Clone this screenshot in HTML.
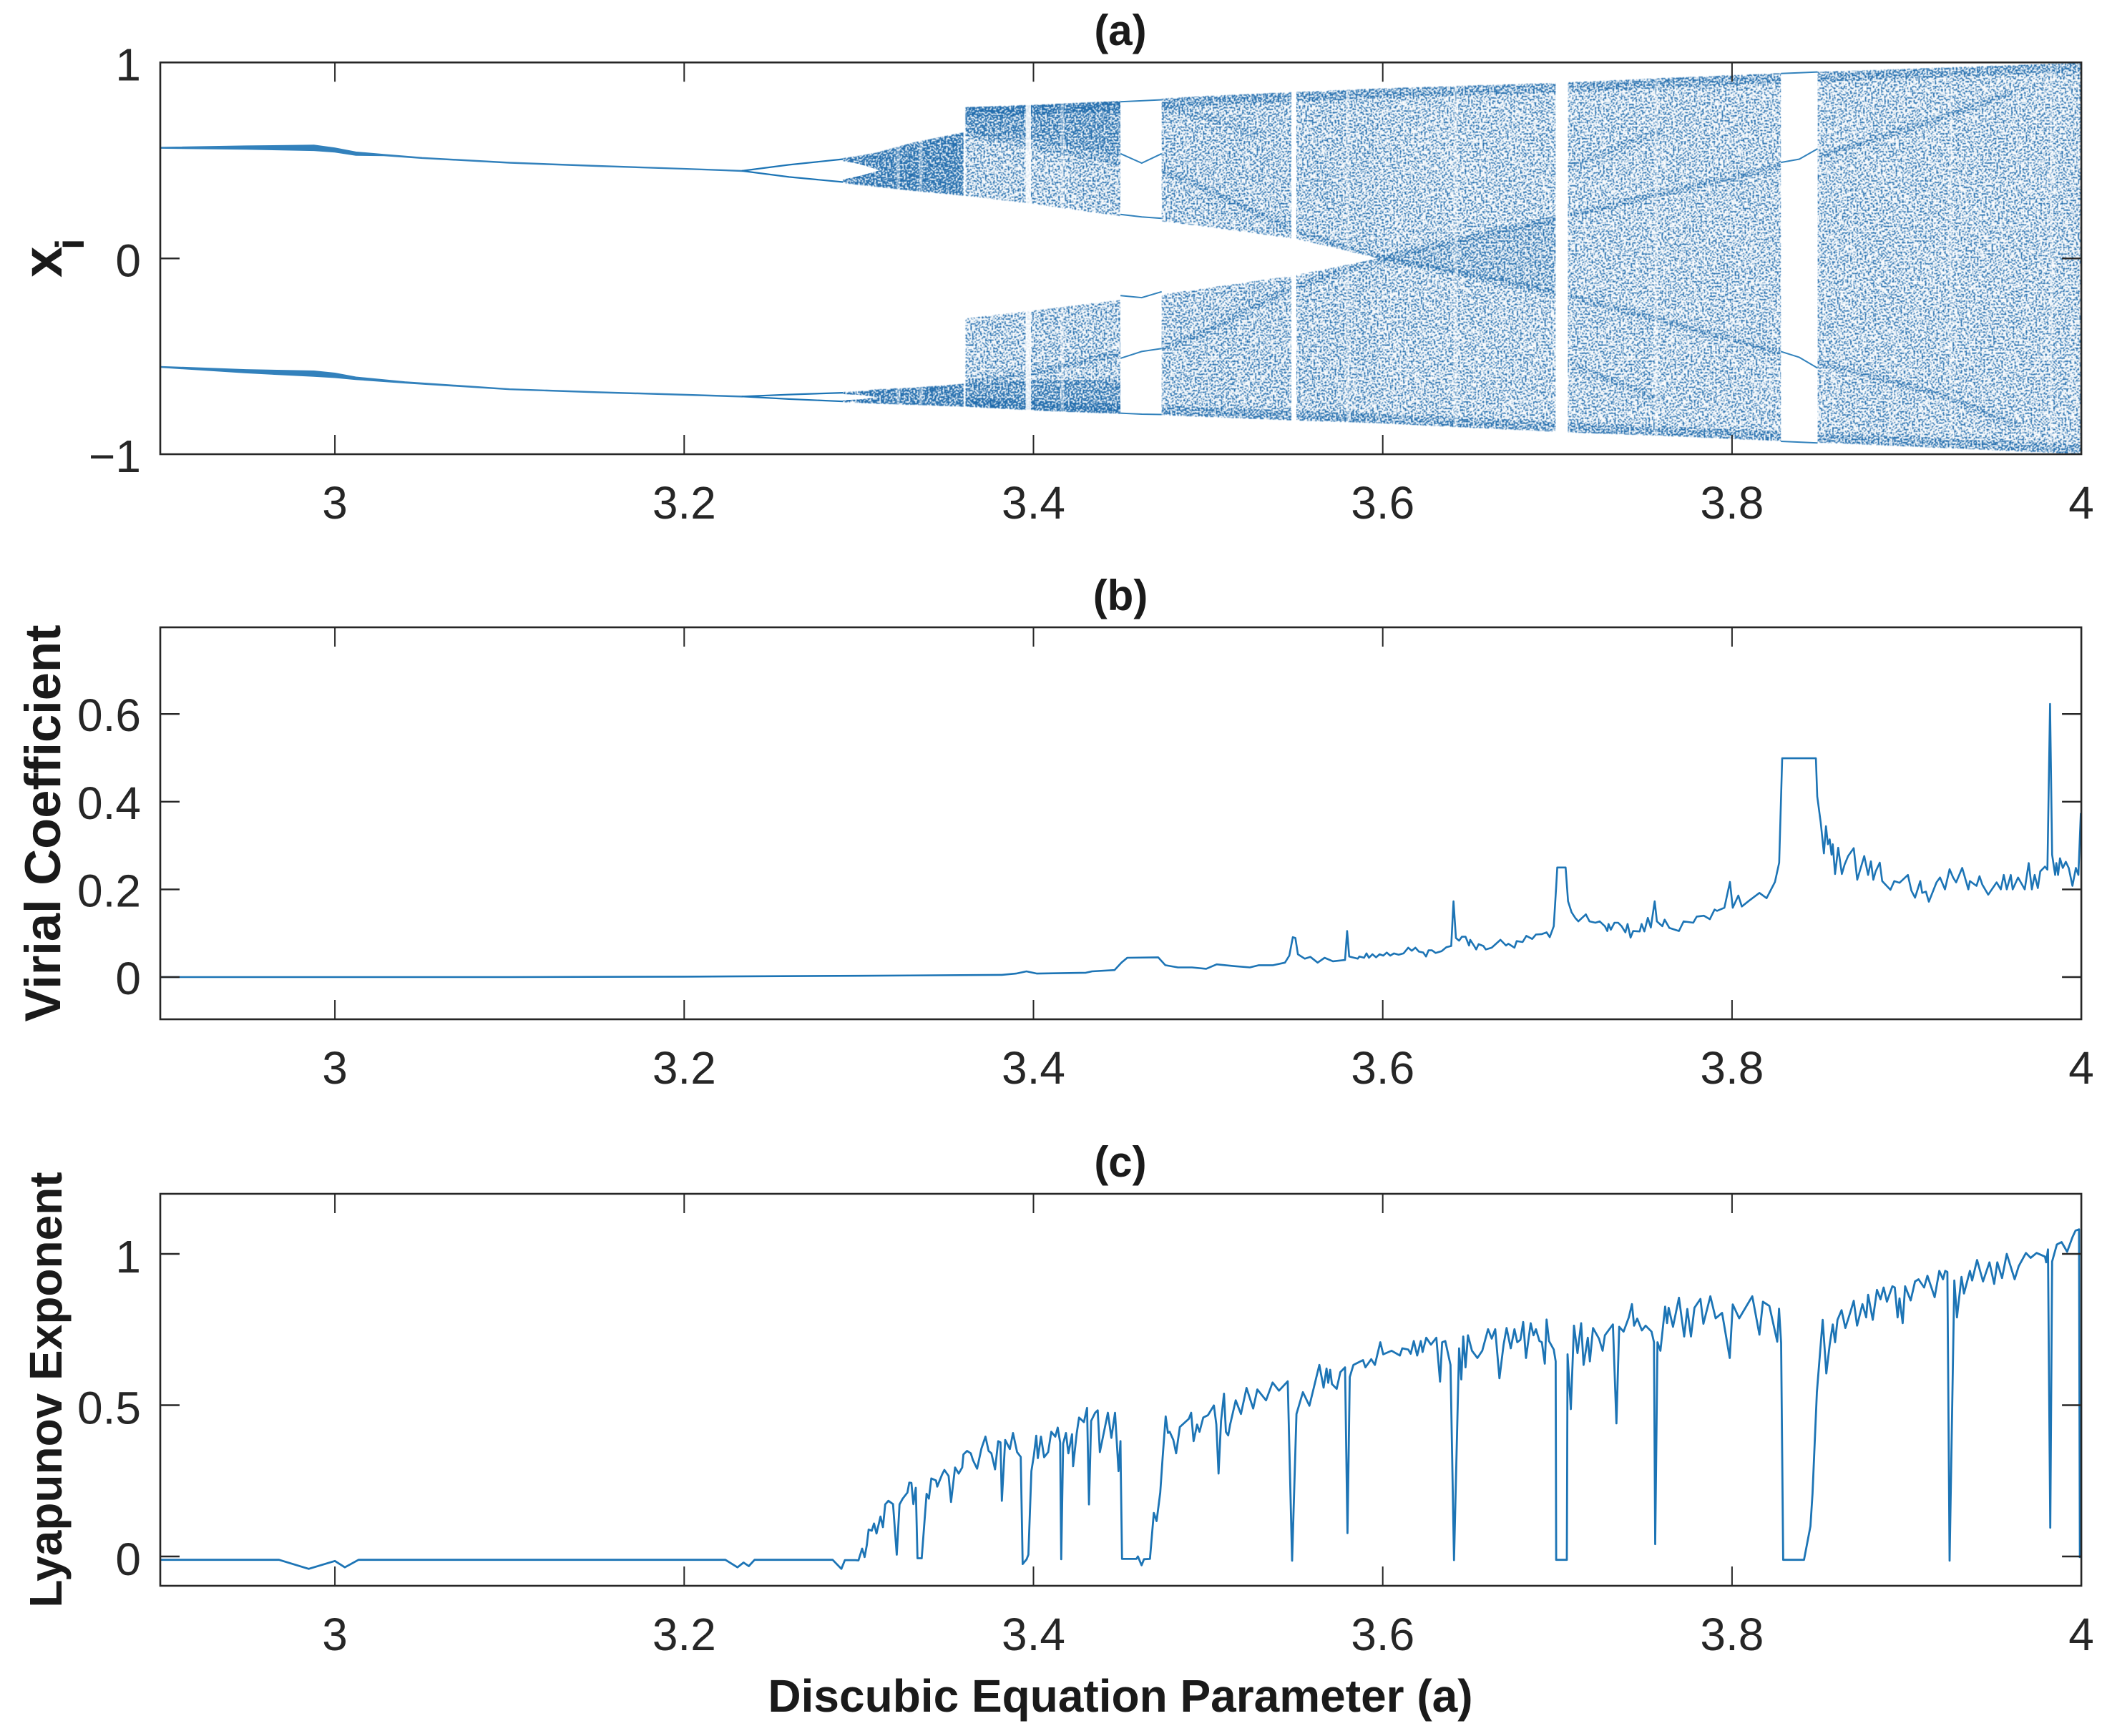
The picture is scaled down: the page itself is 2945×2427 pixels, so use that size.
<!DOCTYPE html>
<html lang="en">
<head>
<meta charset="utf-8">
<title>Discubic map bifurcation, virial coefficient and Lyapunov exponent</title>
<style>
html,body{margin:0;padding:0;background:#fff}
svg{display:block}
text{font-family:"Liberation Sans",Arial,sans-serif;fill:#262626}
.bold{font-weight:bold;fill:#1a1a1a}
</style>
</head>
<body>
<svg id="chart" xmlns="http://www.w3.org/2000/svg" width="2945" height="2427" viewBox="0 0 2945 2427">
  <defs>
    <!-- Panel (a) scatter is drawn as density bands from the envelope arrays below; this filter is only a speckle texture, so its dots are not individual data points. -->
    <filter id="stipple" filterUnits="userSpaceOnUse" x="224" y="88" width="2685" height="547" color-interpolation-filters="sRGB">
      <feTurbulence type="fractalNoise" baseFrequency="0.44" numOctaves="1" seed="11" result="noise"/>
      <feColorMatrix in="noise" type="matrix" values="0 0 0 0 0  0 0 0 0 0  0 0 0 0 0  1 0 0 0 0" result="noiseAlpha"/>
      <feColorMatrix in="SourceGraphic" type="matrix" values="0 0 0 0 0  0 0 0 0 0  0 0 0 0 0  0 0 0 1 0" result="densityAlpha"/>
      <feComposite in="noiseAlpha" in2="densityAlpha" operator="arithmetic" k1="0" k2="1" k3="1" k4="-1" result="sum"/>
      <feColorMatrix in="sum" type="matrix" values="0 0 0 0 0.11  0 0 0 0 0.41  0 0 0 0 0.67  0 0 0 9 0" result="dots"/>
      <feGaussianBlur in="dots" stdDeviation="0.5"/>
    </filter>
  </defs>
  <rect x="0" y="0" width="2945" height="2427" fill="#ffffff"/>
  <g id="panel-a-marks"></g>
  <g id="panel-b-marks"></g>
  <g id="panel-c-marks"></g>
  <g id="axes-layer"></g>

  <text class="bold" x="1566" y="63" font-size="60" text-anchor="middle">(a)</text>
  <text class="bold" x="1566" y="853" font-size="60" text-anchor="middle">(b)</text>
  <text class="bold" x="1566" y="1645" font-size="60" text-anchor="middle">(c)</text>

  <text class="bold" x="1566" y="2393" font-size="64" text-anchor="middle">Discubic Equation Parameter (a)</text>
  <text class="bold" transform="translate(86,388) rotate(-90)" font-size="78">x</text>
  <text class="bold" transform="translate(117,349) rotate(-90)" font-size="56">i</text>
  <text class="bold" transform="translate(84,1151) rotate(-90)" font-size="70.5" text-anchor="middle">Virial Coefficient</text>
  <text class="bold" transform="translate(86,1943) rotate(-90)" font-size="64" text-anchor="middle">Lyapunov Exponent</text>
</svg>
<script>
// ---- shared axis data ----
const xTickValues = [3, 3.2, 3.4, 3.6, 3.8, 4];
const xTickLabels = ['3', '3.2', '3.4', '3.6', '3.8', '4'];
const bifurcationTickValues = [-1, 0, 1];
const bifurcationTickLabels = ['\u22121', '0', '1'];
const virialTickValues = [0, 0.2, 0.4, 0.6];
const virialTickLabels = ['0', '0.2', '0.4', '0.6'];
const lyapunovTickValues = [0, 0.5, 1];
const lyapunovTickLabels = ['0', '0.5', '1'];

// ---- panel (a): attractor envelopes ----
const upperBranchA = [2.9, 2.949, 2.988, 3.0, 3.012, 3.028, 3.05, 3.1, 3.15, 3.2, 3.233];
const upperBranchHi = [0.567, 0.574, 0.578, 0.564, 0.543, 0.531, 0.515, 0.491, 0.474, 0.459, 0.449];
const upperBranchLo = [0.563, 0.558, 0.551, 0.543, 0.527, 0.525, 0.511, 0.487, 0.470, 0.456, 0.445];
const lowerBranchA = [2.9, 2.949, 2.988, 3.0, 3.012, 3.04, 3.1, 3.15, 3.2, 3.233];
const lowerBranchHi = [-0.552, -0.568, -0.575, -0.586, -0.606, -0.630, -0.666, -0.681, -0.694, -0.703];
const lowerBranchLo = [-0.556, -0.584, -0.602, -0.608, -0.618, -0.636, -0.670, -0.685, -0.698, -0.707];
const splitA = [3.233, 3.26, 3.291];
const splitUpperHigh = [0.447, 0.478, 0.507];
const splitUpperLow = [0.447, 0.416, 0.39];
const splitLowerHigh = [-0.705, -0.695, -0.686];
const splitLowerLow = [-0.705, -0.718, -0.73];

const earlyChaosA = [3.291, 3.30, 3.31, 3.33, 3.36];
const earlyUpperHi = [0.512, 0.525, 0.54, 0.59, 0.645];
const earlyUpperLo = [0.385, 0.375, 0.365, 0.345, 0.32];
const earlyLowerHi = [-0.682, -0.678, -0.668, -0.66, -0.64];
const earlyLowerLo = [-0.734, -0.738, -0.742, -0.748, -0.757];
const earlyHoleA = [3.289, 3.30, 3.312];
const earlyHoleHi = [0.50, 0.483, 0.45];
const earlyHoleLo = [0.40, 0.42, 0.45];
const earlyLowerHoleA = [3.289, 3.30, 3.311];
const earlyLowerHoleHi = [-0.692, -0.697, -0.708];
const earlyLowerHoleLo = [-0.725, -0.72, -0.708];

const upperLobeA = [3.361, 3.402, 3.45, 3.5, 3.55, 3.5975];
const upperLobeHi = [0.773, 0.785, 0.805, 0.83, 0.85, 0.868];
const upperLobeLo = [0.32, 0.275, 0.215, 0.16, 0.10, 0.0];
const lowerLobeA = [3.361, 3.402, 3.46, 3.5, 3.55, 3.5975];
const lowerLobeHi = [-0.306, -0.263, -0.2, -0.15, -0.085, 0.0];
const lowerLobeLo = [-0.757, -0.778, -0.797, -0.81, -0.828, -0.842];
const fullBandA = [3.5975, 3.65, 3.7, 3.77, 3.83, 3.9, 4];
const fullBandHi = [0.868, 0.883, 0.897, 0.925, 0.947, 0.968, 1.0];
const fullBandLo = [-0.842, -0.865, -0.886, -0.91, -0.934, -0.96, -1.0];

const denseTopA = [3.361, 3.40, 3.45];
const denseTopHi = [0.773, 0.785, 0.805];
const denseTopLo = [0.645, 0.60, 0.52];
const denseBottomA = [3.361, 3.40, 3.45];
const denseBottomHi = [-0.64, -0.62, -0.62];
const denseBottomLo = [-0.757, -0.775, -0.795];
const denseCentreA = [3.5975, 3.65, 3.706];
const denseCentreHi = [0.0, 0.1, 0.22];
const denseCentreLo = [0.0, -0.09, -0.19];

const descendingCurveA = [3.4686, 3.496, 3.547, 3.5975, 3.637, 3.706, 3.83, 3.92, 3.965];
const descendingCurveX = [0.472, 0.366, 0.153, 0.0, -0.058, -0.19, -0.483, -0.695, -0.855];
const ascendingCurveA = [3.4686, 3.496, 3.547, 3.5975, 3.637, 3.706, 3.845, 3.92, 3.96];
const ascendingCurveX = [-0.47, -0.386, -0.155, 0.0, 0.08, 0.22, 0.507, 0.72, 0.85];
const innerUpperCurveA = [3.361, 3.402, 3.45];
const innerUpperCurveX = [0.64, 0.57, 0.49];
const innerLowerCurveA = [3.361, 3.402, 3.45];
const innerLowerCurveX = [-0.64, -0.58, -0.48];
const arcUpperA = [3.706, 3.73, 3.76];
const arcUpperX = [0.47, 0.55, 0.66];
const arcLowerA = [3.706, 3.73, 3.76];
const arcLowerX = [-0.53, -0.62, -0.72];
const arcTopA = [3.47, 3.50, 3.53];
const arcTopX = [0.78, 0.72, 0.63];

const windowStarts = [3.3955, 3.4498, 3.5477, 3.699, 3.828];
const windowEnds = [3.3986, 3.4734, 3.5505, 3.706, 3.849];
const faintWindowStarts = [3.3215, 3.3345, 3.4155, 3.579, 3.6405, 3.7555, 3.9245, 3.982];
const faintWindowEnds = [3.3235, 3.3365, 3.4175, 3.581, 3.643, 3.7575, 3.926, 3.9835];

const windowCurveA = [3.4498, 3.462, 3.4734];
const windowCurve1 = [0.80, 0.805, 0.81];
const windowCurve2 = [0.535, 0.487, 0.535];
const windowCurve3 = [0.225, 0.212, 0.205];
const windowCurve4 = [-0.19, -0.2, -0.17];
const windowCurve5 = [-0.51, -0.475, -0.46];
const windowCurve6 = [-0.79, -0.795, -0.797];
const largeWindowCurveA = [3.828, 3.8385, 3.849];
const largeWindowCurve1 = [0.944, 0.948, 0.952];
const largeWindowCurve2 = [0.49, 0.507, 0.56];
const largeWindowCurve3 = [-0.475, -0.505, -0.56];
const largeWindowCurve4 = [-0.934, -0.938, -0.942];

// ---- panel (b): virial coefficient ----
const virialA = [
  2.9, 3.1, 3.2, 3.3, 3.3818, 3.39, 3.396, 3.402, 3.43, 3.4335,
  3.4464, 3.4504, 3.4537, 3.4714, 3.4755, 3.4827, 3.4908, 3.4989, 3.5049, 3.515,
  3.5239, 3.5291, 3.5372, 3.544, 3.5465, 3.5485, 3.55, 3.5514, 3.5554, 3.5586,
  3.5627, 3.5667, 3.5715, 3.5784, 3.5796, 3.5808, 3.5857, 3.5866, 3.5893, 3.5907,
  3.5921, 3.5941, 3.5962, 3.5982, 3.6003, 3.6023, 3.6043, 3.6064, 3.6091, 3.6119,
  3.6146, 3.6166, 3.6187, 3.6207, 3.6232, 3.6248, 3.6262, 3.6282, 3.6303, 3.6337,
  3.6364, 3.6392, 3.6405, 3.6419, 3.6437, 3.6453, 3.6474, 3.6494, 3.6501, 3.6522,
  3.6535, 3.6549, 3.6576, 3.659, 3.6624, 3.6674, 3.6706, 3.6719, 3.6754, 3.6767,
  3.6801, 3.6822, 3.6856, 3.6877, 3.6911, 3.6938, 3.6956, 3.6979, 3.6993, 3.6999,
  3.7047, 3.7061, 3.7081, 3.7102, 3.712, 3.7163, 3.7184, 3.7218, 3.7242, 3.7272,
  3.7286, 3.7293, 3.7306, 3.7327, 3.7348, 3.7368, 3.7389, 3.7402, 3.7419, 3.7434,
  3.7471, 3.7482, 3.7498, 3.7518, 3.7535, 3.7557, 3.757, 3.7601, 3.7614, 3.7641,
  3.7696, 3.7723, 3.7778, 3.7798, 3.7839, 3.7873, 3.79, 3.7914, 3.7956, 3.7988,
  3.8004, 3.8036, 3.8056, 3.8097, 3.8157, 3.8198, 3.8246, 3.827, 3.8287, 3.848,
  3.8488, 3.8508, 3.8526, 3.8538, 3.8549, 3.8559, 3.857, 3.8577, 3.859, 3.8608,
  3.8629, 3.8645, 3.8665, 3.8697, 3.8717, 3.8757, 3.8779, 3.8795, 3.8809, 3.8822,
  3.8846, 3.886, 3.8907, 3.8929, 3.8959, 3.9007, 3.9027, 3.9048, 3.9078, 3.9089,
  3.911, 3.9127, 3.9171, 3.9191, 3.9219, 3.9246, 3.9266, 3.9283, 3.9318, 3.9353,
  3.9362, 3.94, 3.9417, 3.9433, 3.9467, 3.9515, 3.9539, 3.9556, 3.9573, 3.9596,
  3.9607, 3.9638, 3.9676, 3.9699, 3.9717, 3.9733, 3.9751, 3.9765, 3.9792, 3.9806,
  3.9821, 3.9833, 3.985, 3.9857, 3.9867, 3.9878, 3.9894, 3.9911, 3.9928, 3.9949,
  3.9969, 3.9983, 3.9997
];
const virialV = [
  0.0, 0.0, 0.001, 0.003, 0.005, 0.008, 0.013, 0.008, 0.01, 0.013,
  0.016, 0.033, 0.044, 0.045, 0.027, 0.022, 0.022, 0.019, 0.029, 0.025,
  0.022, 0.027, 0.027, 0.033, 0.049, 0.091, 0.089, 0.052, 0.042, 0.046,
  0.033, 0.044, 0.036, 0.039, 0.105, 0.047, 0.042, 0.047, 0.044, 0.054,
  0.044, 0.052, 0.045, 0.052, 0.049, 0.056, 0.049, 0.054, 0.051, 0.054,
  0.067, 0.06, 0.067, 0.058, 0.056, 0.047, 0.061, 0.061, 0.055, 0.059,
  0.068, 0.071, 0.173, 0.089, 0.083, 0.092, 0.092, 0.072, 0.085, 0.072,
  0.063, 0.075, 0.071, 0.063, 0.067, 0.085, 0.072, 0.076, 0.067, 0.082,
  0.08, 0.094, 0.087, 0.097, 0.098, 0.102, 0.091, 0.116, 0.206, 0.25,
  0.25, 0.173, 0.148, 0.135, 0.127, 0.143, 0.127, 0.124, 0.127, 0.116,
  0.105, 0.121, 0.108, 0.124, 0.124, 0.116, 0.102, 0.121, 0.09, 0.105,
  0.104, 0.121, 0.104, 0.135, 0.113, 0.173, 0.127, 0.116, 0.131, 0.112,
  0.105, 0.127, 0.124, 0.138, 0.14, 0.132, 0.154, 0.151, 0.158, 0.217,
  0.158, 0.186, 0.161, 0.174, 0.192, 0.18, 0.217, 0.261, 0.499, 0.499,
  0.412, 0.352, 0.282, 0.344, 0.303, 0.314, 0.279, 0.303, 0.235, 0.295,
  0.235, 0.257, 0.276, 0.294, 0.222, 0.276, 0.233, 0.264, 0.222, 0.241,
  0.261, 0.219, 0.199, 0.219, 0.215, 0.233, 0.197, 0.181, 0.219, 0.192,
  0.195, 0.172, 0.216, 0.227, 0.2, 0.246, 0.227, 0.216, 0.249, 0.2,
  0.219, 0.208, 0.23, 0.211, 0.188, 0.216, 0.2, 0.233, 0.2, 0.233,
  0.2, 0.227, 0.2, 0.26, 0.2, 0.233, 0.203, 0.241, 0.252, 0.245,
  0.623, 0.279, 0.233, 0.26, 0.233, 0.271, 0.249, 0.263, 0.249, 0.208,
  0.249, 0.233, 0.374
];

// ---- panel (c): Lyapunov exponent ----
const lyapunovA = [
  2.9, 2.968, 2.985, 3.0, 3.0057, 3.0135, 3.2236, 3.2305, 3.234, 3.237,
  3.2403, 3.285, 3.29, 3.292, 3.298, 3.2998, 3.3019, 3.3033, 3.3046, 3.3056,
  3.3074, 3.3087, 3.3101, 3.3124, 3.3138, 3.3151, 3.3169, 3.3196, 3.3217, 3.3233,
  3.3251, 3.3278, 3.3289, 3.3301, 3.3312, 3.3326, 3.3336, 3.336, 3.3388, 3.3401,
  3.3415, 3.3442, 3.3449, 3.3476, 3.349, 3.3514, 3.3528, 3.3551, 3.3572, 3.3592,
  3.3599, 3.362, 3.3641, 3.3654, 3.3677, 3.3702, 3.3725, 3.3743, 3.3759, 3.378,
  3.3798, 3.3811, 3.3819, 3.3838, 3.3865, 3.3883, 3.3906, 3.3927, 3.3938, 3.3961,
  3.3971, 3.3988, 3.4002, 3.4016, 3.4025, 3.4043, 3.4061, 3.4084, 3.4102, 3.4125,
  3.4139, 3.4153, 3.4159, 3.417, 3.4186, 3.42, 3.4221, 3.4227, 3.4248, 3.4261,
  3.4289, 3.4307, 3.4318, 3.433, 3.4353, 3.4368, 3.438, 3.4426, 3.4446, 3.4467,
  3.4487, 3.4498, 3.45, 3.4507, 3.4589, 3.4598, 3.4619, 3.4633, 3.4667, 3.4689,
  3.4705, 3.4726, 3.474, 3.4757, 3.477, 3.478, 3.4801, 3.4817, 3.4838, 3.489,
  3.4903, 3.4917, 3.4937, 3.4951, 3.4972, 3.4999, 3.5033, 3.5047, 3.506, 3.5074,
  3.5091, 3.5102, 3.5115, 3.5126, 3.5158, 3.5188, 3.522, 3.5258, 3.5282, 3.5332,
  3.5369, 3.5406, 3.5456, 3.5481, 3.5506, 3.5543, 3.558, 3.5637, 3.5661, 3.5678,
  3.5688, 3.5699, 3.5709, 3.5736, 3.5757, 3.5784, 3.5798, 3.5811, 3.5832, 3.5887,
  3.5901, 3.5934, 3.5955, 3.5986, 3.6003, 3.6051, 3.6098, 3.6112, 3.6146, 3.616,
  3.6178, 3.6197, 3.6218, 3.6228, 3.6249, 3.6276, 3.6307, 3.6328, 3.634, 3.6358,
  3.6388, 3.6408, 3.6437, 3.645, 3.6461, 3.6474, 3.6488, 3.6511, 3.6542, 3.657,
  3.6603, 3.6624, 3.6644, 3.6668, 3.6692, 3.6709, 3.6733, 3.6754, 3.677, 3.6788,
  3.6804, 3.682, 3.6847, 3.6863, 3.6877, 3.6897, 3.6911, 3.6928, 3.6938, 3.6952,
  3.6979, 3.699, 3.6993, 3.7054, 3.7058, 3.7077, 3.7095, 3.7115, 3.7136, 3.715,
  3.7174, 3.7186, 3.7204, 3.7238, 3.7259, 3.7272, 3.7318, 3.7338, 3.7354, 3.7379,
  3.7409, 3.7427, 3.7439, 3.7457, 3.7484, 3.7505, 3.7539, 3.7553, 3.756, 3.7573,
  3.759, 3.7617, 3.7628, 3.7637, 3.7662, 3.7696, 3.7726, 3.7744, 3.7765, 3.7785,
  3.7819, 3.7836, 3.7876, 3.7906, 3.7943, 3.7987, 3.8004, 3.8041, 3.8116, 3.8157,
  3.8177, 3.8214, 3.8259, 3.8269, 3.8281, 3.8293, 3.8412, 3.8449, 3.8461, 3.8486,
  3.8519, 3.854, 3.8559, 3.8577, 3.859, 3.8604, 3.8627, 3.8649, 3.8679, 3.8697,
  3.8716, 3.8747, 3.8768, 3.8779, 3.8806, 3.883, 3.885, 3.8868, 3.8887, 3.8918,
  3.8932, 3.8948, 3.8959, 3.8977, 3.8991, 3.9023, 3.9048, 3.9068, 3.91, 3.9119,
  3.916, 3.9187, 3.9208, 3.9221, 3.9233, 3.9246, 3.9273, 3.9288, 3.9314, 3.9328,
  3.9362, 3.9375, 3.9403, 3.9437, 3.9474, 3.9501, 3.9519, 3.9546, 3.9573, 3.9618,
  3.9642, 3.9683, 3.971, 3.9744, 3.9792, 3.9799, 3.9809, 3.9822, 3.9833, 3.986,
  3.9887, 3.9919, 3.9949, 3.9967, 3.9987, 3.9992
];
const lyapunovV = [
  -0.011, -0.011, -0.041, -0.015, -0.036, -0.011, -0.011, -0.036, -0.02, -0.032,
  -0.011, -0.011, -0.041, -0.012, -0.012, -0.013, 0.026, -0.002, 0.038, 0.089,
  0.085, 0.109, 0.076, 0.132, 0.097, 0.172, 0.184, 0.173, 0.006, 0.172,
  0.191, 0.211, 0.244, 0.243, 0.173, 0.227, -0.006, -0.006, 0.207, 0.191,
  0.258, 0.251, 0.231, 0.27, 0.286, 0.266, 0.18, 0.294, 0.274, 0.294,
  0.337, 0.349, 0.341, 0.318, 0.29, 0.357, 0.396, 0.349, 0.341, 0.288,
  0.381, 0.377, 0.184, 0.385, 0.355, 0.408, 0.345, 0.329, -0.025, -0.009,
  0.006, 0.282, 0.333, 0.399, 0.325, 0.396, 0.328, 0.345, 0.412, 0.396,
  0.426, 0.377, -0.009, 0.373, 0.408, 0.341, 0.404, 0.298, 0.408, 0.459,
  0.444, 0.491, 0.172, 0.448, 0.475, 0.483, 0.345, 0.475, 0.392, 0.475,
  0.282, 0.381, 0.274, -0.008, -0.008, 0.0, -0.029, -0.009, -0.008, 0.144,
  0.117, 0.211, 0.329, 0.463, 0.408, 0.412, 0.385, 0.341, 0.428, 0.455,
  0.475, 0.381, 0.436, 0.412, 0.459, 0.467, 0.499, 0.436, 0.274, 0.448,
  0.538, 0.412, 0.4, 0.436, 0.516, 0.471, 0.557, 0.489, 0.552, 0.516,
  0.575, 0.548, 0.579, -0.014, 0.471, 0.543, 0.498, 0.633, 0.558, 0.621,
  0.574, 0.617, 0.57, 0.554, 0.609, 0.625, 0.077, 0.593, 0.633, 0.649,
  0.625, 0.652, 0.633, 0.708, 0.668, 0.68, 0.664, 0.688, 0.684, 0.67,
  0.712, 0.664, 0.712, 0.676, 0.723, 0.7, 0.723, 0.578, 0.708, 0.712,
  0.633, -0.012, 0.688, 0.585, 0.727, 0.625, 0.731, 0.68, 0.656, 0.68,
  0.751, 0.72, 0.751, 0.589, 0.7, 0.755, 0.688, 0.751, 0.708, 0.716,
  0.775, 0.656, 0.771, 0.731, 0.751, 0.712, 0.708, 0.637, 0.783, 0.712,
  0.684, 0.645, -0.011, -0.011, 0.668, 0.487, 0.763, 0.672, 0.771, 0.633,
  0.723, 0.645, 0.755, 0.72, 0.68, 0.731, 0.767, 0.44, 0.759, 0.743,
  0.79, 0.834, 0.763, 0.786, 0.747, 0.763, 0.743, 0.708, 0.041, 0.708,
  0.68, 0.826, 0.771, 0.822, 0.759, 0.855, 0.727, 0.818, 0.727, 0.822,
  0.851, 0.769, 0.86, 0.787, 0.805, 0.656, 0.833, 0.787, 0.86, 0.733,
  0.842, 0.828, 0.71, 0.819, 0.706, -0.011, -0.011, 0.1, 0.208, 0.543,
  0.782, 0.605, 0.7, 0.767, 0.708, 0.782, 0.814, 0.755, 0.81, 0.845,
  0.763, 0.834, 0.79, 0.865, 0.782, 0.881, 0.85, 0.889, 0.842, 0.893,
  0.889, 0.79, 0.853, 0.771, 0.893, 0.846, 0.909, 0.916, 0.889, 0.928,
  0.857, 0.944, 0.916, 0.944, 0.94, -0.014, 0.912, 0.79, 0.924, 0.869,
  0.944, 0.912, 0.98, 0.909, 0.972, 0.901, 0.972, 0.92, 1.0, 0.916,
  0.96, 1.003, 0.987, 1.003, 0.991, 0.972, 1.015, 0.095, 0.975, 1.031,
  1.039, 1.007, 1.055, 1.077, 1.081, -0.005
];

// ---- axis functions ----
function xScale(a) { return 224 + (a - 2.9) * 2441; }
function yBifurcation(x) { return 361.3 - 273.8 * x; }
function yVirial(v) { return 1366 - 613 * v; }
function yLyapunov(v) { return 2176 - 423 * v; }

const SVG_NS = 'http://www.w3.org/2000/svg';
const BLUE = '#1c74b5';
const INK = '#262626';

function shape(tag, attrs, parent) {
  const el = document.createElementNS(SVG_NS, tag);
  for (const k in attrs) el.setAttribute(k, attrs[k]);
  parent.appendChild(el);
  return el;
}
function linePath(as, vs, yFn) {
  return as.map((a, i) => (i ? 'L' : 'M') + xScale(a).toFixed(1) + ' ' + yFn(vs[i]).toFixed(1)).join('');
}
function bandPath(as, hi, lo) {
  const up = as.map((a, i) => (i ? 'L' : 'M') + xScale(a).toFixed(1) + ' ' + yBifurcation(hi[i]).toFixed(1)).join('');
  let down = '';
  for (let i = as.length - 1; i >= 0; i--) down += 'L' + xScale(as[i]).toFixed(1) + ' ' + yBifurcation(lo[i]).toFixed(1);
  return up + down + 'Z';
}

// ---- panel (a) marks ----
const panelA = document.getElementById('panel-a-marks');
const stippleLayer = shape('g', { filter: 'url(#stipple)' }, panelA);



function densityBand(as, hi, lo, opacity, name) {
  const el = shape('path', { d: bandPath(as, hi, lo), fill: '#000', 'fill-opacity': opacity }, stippleLayer);
  
  
  return el;
}
function densityCurve(as, xs, width, opacity, name) {
  const el = shape('path', { d: linePath(as, xs, yBifurcation), fill: 'none', stroke: '#000', 'stroke-width': width, 'stroke-opacity': opacity, 'stroke-linejoin': 'round' }, stippleLayer);
  
  
  return el;
}
function edgeDepth(values, depth) { return values.map(v => v - depth); }

densityBand(earlyChaosA, earlyUpperHi, earlyUpperLo, 0.6, 'early-chaos-upper-band');
densityBand(earlyChaosA, earlyLowerHi, earlyLowerLo, 0.6, 'early-chaos-lower-band');
densityBand(upperLobeA, upperLobeHi, upperLobeLo, 0.505, 'upper-attractor-lobe');
densityBand(lowerLobeA, lowerLobeHi, lowerLobeLo, 0.505, 'lower-attractor-lobe');
densityBand(fullBandA, fullBandHi, fullBandLo, 0.498, 'merged-attractor-band');
densityBand(denseTopA, denseTopHi, denseTopLo, 0.14, 'dense-upper-lobe-strip');
densityBand(denseBottomA, denseBottomHi, denseBottomLo, 0.14, 'dense-lower-lobe-strip');
densityBand(denseCentreA, denseCentreHi, denseCentreLo, 0.07, 'dense-centre-crossing');
densityBand(upperLobeA, upperLobeHi, edgeDepth(upperLobeHi, 0.05), 0.12, 'upper-lobe-top-edge-strip');
densityBand(fullBandA, fullBandHi, edgeDepth(fullBandHi, 0.05), 0.12, 'merged-band-top-edge-strip');
densityBand(lowerLobeA, edgeDepth(lowerLobeLo, -0.05), lowerLobeLo, 0.12, 'lower-lobe-bottom-edge-strip');
densityBand(fullBandA, edgeDepth(fullBandLo, -0.05), fullBandLo, 0.12, 'merged-band-bottom-edge-strip');
densityCurve(descendingCurveA, descendingCurveX, 8, 0.1, 'descending-crossing-curve');
densityCurve(ascendingCurveA, ascendingCurveX, 8, 0.1, 'ascending-crossing-curve');
densityCurve(innerUpperCurveA, innerUpperCurveX, 9, 0.1, 'inner-upper-curve');
densityCurve(innerLowerCurveA, innerLowerCurveX, 9, 0.1, 'inner-lower-curve');
densityCurve(arcUpperA, arcUpperX, 9, 0.08, 'upper-arc-curve');
densityCurve(arcLowerA, arcLowerX, 9, 0.08, 'lower-arc-curve');
densityCurve(arcTopA, arcTopX, 9, 0.08, 'top-arc-curve');

// holes and periodic windows sit above the stippled bands
const earlyHole = shape('path', { d: bandPath(earlyHoleA, earlyHoleHi, earlyHoleLo), fill: '#fff' }, panelA);


const earlyLowerHole = shape('path', { d: bandPath(earlyLowerHoleA, earlyLowerHoleHi, earlyLowerHoleLo), fill: '#fff' }, panelA);



windowStarts.forEach((start, i) => {
  const x0 = xScale(start), x1 = xScale(windowEnds[i]);
  const rect = shape('rect', { x: x0, y: yBifurcation(1), width: x1 - x0, height: yBifurcation(-1) - yBifurcation(1), fill: '#fff', 'fill-opacity': i === 0 ? 0.85 : 1 }, panelA);
  
  
});
faintWindowStarts.forEach((start, i) => {
  const x0 = xScale(start), x1 = xScale(faintWindowEnds[i]);
  const rect = shape('rect', { x: x0, y: yBifurcation(1), width: x1 - x0, height: yBifurcation(-1) - yBifurcation(1), fill: '#fff', 'fill-opacity': 0.35 }, panelA);
  
  
});

function solidBand(as, hi, lo, name) {
  const el = shape('path', { d: bandPath(as, hi, lo), fill: BLUE, stroke: BLUE, 'stroke-width': 1.4, opacity: 0.9 }, panelA);
  
  
}
function thinCurve(as, xs, width, opacity, name) {
  const el = shape('path', { d: linePath(as, xs, yBifurcation), fill: 'none', stroke: BLUE, 'stroke-width': width, 'stroke-opacity': opacity }, panelA);
  
  
}
solidBand(upperBranchA, upperBranchHi, upperBranchLo, 'upper-fixed-point-branch');
solidBand(lowerBranchA, lowerBranchHi, lowerBranchLo, 'lower-fixed-point-branch');
thinCurve(splitA, splitUpperHigh, 2.2, 1, 'upper-split-high-branch');
thinCurve(splitA, splitUpperLow, 2.2, 1, 'upper-split-low-branch');
thinCurve(splitA, splitLowerHigh, 2.2, 1, 'lower-split-high-branch');
thinCurve(splitA, splitLowerLow, 2.2, 1, 'lower-split-low-branch');
thinCurve(windowCurveA, windowCurve1, 2, 0.9, 'window-curve');
thinCurve(windowCurveA, windowCurve2, 2, 0.9, 'window-curve');
thinCurve(windowCurveA, windowCurve3, 2, 0.9, 'window-curve');
thinCurve(windowCurveA, windowCurve4, 2, 0.9, 'window-curve');
thinCurve(windowCurveA, windowCurve5, 2, 0.9, 'window-curve');
thinCurve(windowCurveA, windowCurve6, 2, 0.9, 'window-curve');
thinCurve(largeWindowCurveA, largeWindowCurve1, 2, 0.9, 'large-window-curve');
thinCurve(largeWindowCurveA, largeWindowCurve2, 2, 0.9, 'large-window-curve');
thinCurve(largeWindowCurveA, largeWindowCurve3, 2, 0.9, 'large-window-curve');
thinCurve(largeWindowCurveA, largeWindowCurve4, 2, 0.9, 'large-window-curve');

// ---- panel (b) and (c) lines ----
const virialLine = shape('path', { d: linePath(virialA, virialV, yVirial), fill: 'none', stroke: BLUE, 'stroke-width': 2.6, 'stroke-linejoin': 'round' }, document.getElementById('panel-b-marks'));



const lyapunovLine = shape('path', { d: linePath(lyapunovA, lyapunovV, yLyapunov), fill: 'none', stroke: BLUE, 'stroke-width': 2.8, 'stroke-linejoin': 'round' }, document.getElementById('panel-c-marks'));



// ---- axes ----
const axesLayer = document.getElementById('axes-layer');
function drawAxes(top, bottom, yFn, yTicks, yLabels, labelDrop, prefix) {
  const left = xScale(2.9), right = xScale(4);
  const frame = shape('rect', { x: left, y: top, width: right - left, height: bottom - top, fill: 'none', stroke: INK, 'stroke-width': 2.6 }, axesLayer);
  
  
  xTickValues.forEach((t, i) => {
    const x = xScale(t);
    if (t < 4) {
      const d = 'M' + x + ' ' + top + 'V' + (top + 27) + 'M' + x + ' ' + bottom + 'V' + (bottom - 27);
      const tick = shape('path', { d: d, stroke: INK, 'stroke-width': 2, fill: 'none' }, axesLayer);
      
      
    }
    const label = shape('text', { x: x, y: bottom + 90, 'font-size': 64, 'text-anchor': 'middle' }, axesLayer);
    label.textContent = xTickLabels[i];
    
    
  });
  yTicks.forEach((t, i) => {
    const y = yFn(t);
    const isEdge = Math.abs(y - top) < 2 || Math.abs(y - bottom) < 2;
    if (!isEdge) {
      const d = 'M' + left + ' ' + y + 'H' + (left + 27) + 'M' + right + ' ' + y + 'H' + (right - 27);
      const tick = shape('path', { d: d, stroke: INK, 'stroke-width': 2.4, fill: 'none' }, axesLayer);
      
      
    }
    const label = shape('text', { x: 197, y: y + labelDrop, 'font-size': 64, 'text-anchor': 'end' }, axesLayer);
    label.textContent = yLabels[i];
    
    
  });
}
drawAxes(87.3, 635, yBifurcation, bifurcationTickValues, bifurcationTickLabels, 25, 'bifurcation');
drawAxes(877, 1425, yVirial, virialTickValues, virialTickLabels, 24, 'virial');
drawAxes(1669, 2217, yLyapunov, lyapunovTickValues, lyapunovTickLabels, 26, 'lyapunov');
</script>
</body>
</html>
